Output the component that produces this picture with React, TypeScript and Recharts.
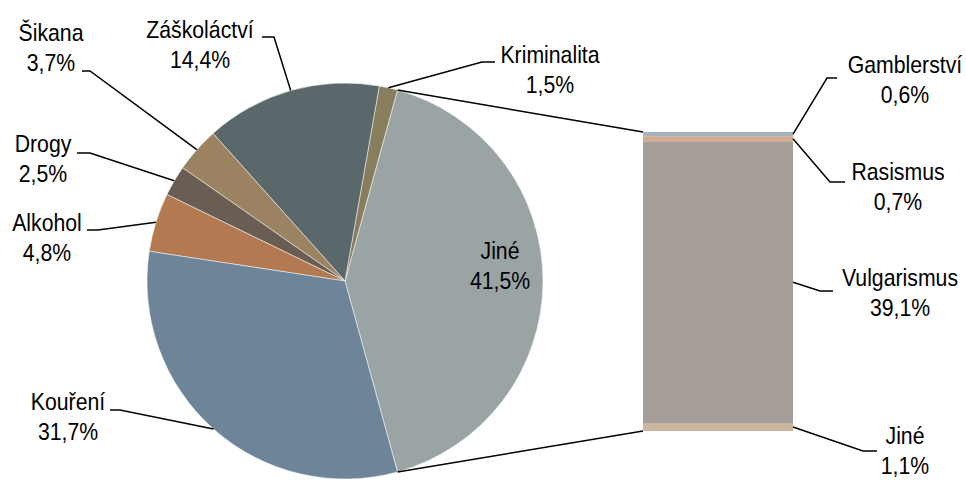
import React from 'react';
import { PieChart, Pie, Cell, BarChart, Bar, XAxis, YAxis } from 'recharts';

// pie slices, in drawing order (counter-clockwise from the split-off slice)
const pieNames = ['Jiné', 'Kriminalita', 'Záškoláctví', 'Šikana', 'Drogy', 'Alkohol', 'Kouření'];
const pieValues = [41.5, 1.5, 14.4, 3.7, 2.5, 4.8, 31.7];

// breakdown of "Jiné", bottom to top of the stacked bar
const barNames = ['Jiné', 'Vulgarismus', 'Rasismus', 'Gamblerství'];
const barValues = [1.1, 39.1, 0.7, 0.6];

const pieColors = ['#9BA4A5', '#887E5E', '#5A686B', '#9B8260', '#6A5D53', '#B37A52', '#6E8499'];
const barColors = ['#CBB79F', '#A59D98', '#D6AA8C', '#A5B3C3'];

const W = 966;
const H = 480;
const PIE_CX = 345;
const PIE_CY = 281;
const PIE_R = 198;
const BAR_LEFT = 643;
const BAR_RIGHT = 793;
const BAR_TOP = 132;
const BAR_BOTTOM = 431;

// no Arial Narrow here, so squeeze the regular face horizontally
const FONT = '"Liberation Sans", Arial, sans-serif';
const FONT_SIZE = 24;
const SQUEEZE = 0.885;
const LINE_GAP = 30;

// label text (centre x, first baseline) and leader elbow / stub end
const pieLabelPos = [
  { tx: 500, ty: 259 },
  { tx: 550, ty: 63, ex: 482, ey: 62, sx: 495 },
  { tx: 200, ty: 38, ex: 274, ey: 37, sx: 262 },
  { tx: 51, ty: 41, ex: 90, ey: 71, sx: 82 },
  { tx: 43, ty: 152, ex: 90, ey: 153, sx: 77 },
  { tx: 47, ty: 231, ex: 98, ey: 230, sx: 87 },
  { tx: 68, ty: 410, ex: 120, ey: 410, sx: 110 },
];
const barLabelPos = [
  { tx: 905, ty: 444, ex: 863, ey: 451, sx: 877 },
  { tx: 900, ty: 286, ex: 820, ey: 291, sx: 833 },
  { tx: 898, ty: 180, ex: 830, ey: 182, sx: 845 },
  { tx: 905, ty: 73, ex: 827, ey: 78, sx: 837 },
];

const RAD = Math.PI / 180;
const pieTotal = pieValues.reduce((a, b) => a + b, 0);
const barTotal = barValues.reduce((a, b) => a + b, 0);
const startAngle = -((pieValues[0] / pieTotal) * 360) / 2;

const polar = (cx: number, cy: number, r: number, angle: number) => ({
  x: cx + r * Math.cos(-angle * RAD),
  y: cy + r * Math.sin(-angle * RAD),
});

const pieTop = polar(PIE_CX, PIE_CY, PIE_R, -startAngle);
const pieBottom = polar(PIE_CX, PIE_CY, PIE_R, startAngle);

const fmt = (v: number) => v.toFixed(1).replace('.', ',') + '%';

const LabelText = ({ x, y, name, value }: { x: number; y: number; name: string; value: number }) => (
  <text
    textAnchor="middle"
    fontFamily={FONT}
    fontSize={FONT_SIZE}
    fill="#000"
    transform={`translate(${x} 0) scale(${SQUEEZE} 1) translate(${-x} 0)`}
  >
    <tspan x={x} y={y}>{name}</tspan>
    <tspan x={x} y={y + LINE_GAP}>{fmt(value)}</tspan>
  </text>
);

const renderPieLabel = (props: any) => {
  const { cx, cy, midAngle, outerRadius, index } = props;
  const pos: any = pieLabelPos[index];
  const a = polar(cx, cy, outerRadius, midAngle);
  return (
    <g key={`pl-${index}`}>
      {pos.ex !== undefined && (
        <polyline
          points={`${a.x},${a.y} ${pos.ex},${pos.ey} ${pos.sx},${pos.ey}`}
          fill="none"
          stroke="#000"
          strokeWidth={1.5}
        />
      )}
      <LabelText x={pos.tx} y={pos.ty} name={pieNames[index]} value={pieValues[index]} />
    </g>
  );
};

const renderBarLabel = (i: number) => (props: any) => {
  const x = Number(props.x);
  const y = Number(props.y);
  const w = Number(props.width);
  const h = Number(props.height);
  const pos = barLabelPos[i];
  return (
    <g key={`bl-${i}`}>
      {i === 0 && (
        <line x1={pieBottom.x} y1={pieBottom.y} x2={x} y2={y + h} stroke="#000" strokeWidth={1.5} />
      )}
      {i === barNames.length - 1 && (
        <line x1={pieTop.x} y1={pieTop.y} x2={x} y2={y} stroke="#000" strokeWidth={1.5} />
      )}
      <polyline
        points={`${x + w},${y + h / 2} ${pos.ex},${pos.ey} ${pos.sx},${pos.ey}`}
        fill="none"
        stroke="#000"
        strokeWidth={1.5}
      />
      <LabelText x={pos.tx} y={pos.ty} name={barNames[i]} value={barValues[i]} />
    </g>
  );
};

const pieData = pieNames.map((name, i) => ({ name, value: pieValues[i] }));
const barRow: Record<string, string | number> = { name: 'Jiné' };
barNames.forEach((n, i) => {
  barRow[`b${i}`] = barValues[i];
});

export default function App() {
  return (
    <div style={{ position: 'absolute', left: 0, top: 0, width: W, height: H, background: '#fff' }}>
      <div style={{ position: 'absolute', left: 0, top: 0 }}>
        <PieChart width={W} height={H} margin={{ top: 0, right: 0, bottom: 0, left: 0 }}>
          <Pie
            data={pieData}
            dataKey="value"
            nameKey="name"
            cx={PIE_CX}
            cy={PIE_CY}
            outerRadius={PIE_R}
            startAngle={startAngle}
            endAngle={startAngle + 360}
            stroke="#ffffff"
            strokeWidth={0.5}
            label={renderPieLabel}
            labelLine={false}
            isAnimationActive={false}
          >
            {pieData.map((d, i) => (
              <Cell key={d.name} fill={pieColors[i]} />
            ))}
          </Pie>
        </PieChart>
      </div>
      <div style={{ position: 'absolute', left: 0, top: 0 }}>
        <BarChart
          width={W}
          height={H}
          data={[barRow]}
          margin={{ top: BAR_TOP, right: W - BAR_RIGHT, bottom: H - BAR_BOTTOM, left: BAR_LEFT }}
          barCategoryGap={0}
          barGap={0}
        >
          <XAxis dataKey="name" hide />
          <YAxis type="number" domain={[0, barTotal]} hide />
          {barNames.map((n, i) => (
            <Bar
              key={n}
              dataKey={`b${i}`}
              stackId="jine"
              fill={barColors[i]}
              label={renderBarLabel(i)}
              isAnimationActive={false}
            />
          ))}
        </BarChart>
      </div>
    </div>
  );
}
